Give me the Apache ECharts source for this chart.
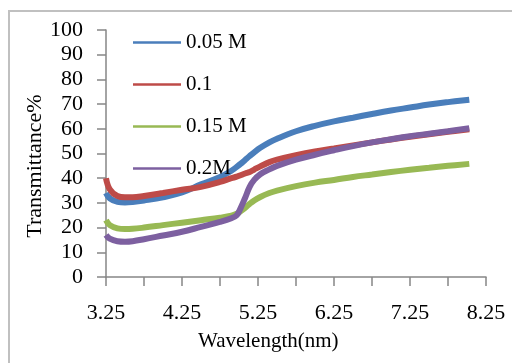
<!DOCTYPE html>
<html>
<head>
<meta charset="utf-8">
<script src="https://cdn.jsdelivr.net/npm/echarts@6/dist/echarts.min.js"></script>
<style>html,body{margin:0;padding:0;background:#fff;}#c{width:512px;height:363px;}</style>
</head>
<body>
<div id="c"></div>
<script>
// Wavelength (nm)
const wavelengths = [3.25,3.3,3.4,3.5,3.6,3.75,4.0,4.25,4.5,4.75,4.9,4.97,5.02,5.08,5.14,5.2,5.28,5.4,5.5,5.75,6.0,6.25,6.5,6.75,7.0,7.25,7.5,7.75,8.03];
const seriesNames = ['0.05 M','0.1','0.15 M','0.2M'];
const t005 = [34,31.8,30.4,30.2,30.4,31,32.3,34.2,37.5,40.5,43,44.6,45.8,47.4,49,50.5,52.3,54.5,56,59,61.2,63,64.5,66,67.4,68.6,69.8,70.8,71.8];
const t01  = [40,35.5,32.8,32.3,32.3,32.8,34,35.3,36.5,38.5,40,40.6,41.2,41.9,42.5,43.5,44.8,46.5,47.5,49.3,50.8,52,53.3,54.5,55.7,56.8,57.8,58.8,59.8];
const t015 = [23,21,19.7,19.4,19.5,20,21,22,23,24,24.8,25.6,26.6,28,29.6,31,32.4,34,35,36.8,38.2,39.3,40.5,41.5,42.5,43.4,44.2,45,45.8];
const t02  = [17,15.5,14.5,14.3,14.5,15.3,16.8,18.3,20.3,22.3,23.8,25,27.8,32,36.5,39.3,41.6,43.6,45,47.5,49.5,51.3,53,54.5,55.8,57,58,59,60.2];
const xTickLabels = ['3.25','4.25','5.25','6.25','7.25','8.25'];
const yMin = 0, yMax = 100, yStep = 10;

const colors = ['#4A7EBB','#BE4B48','#98B954','#7D60A0'];
const xOrigin = 3.25;
const allSeries = [t005,t01,t015,t02];
const font = 'Liberation Serif';

const chart = echarts.init(document.getElementById('c'), null, {renderer:'canvas'});
chart.setOption({
  animation:false,
  backgroundColor:'#fff',
  color: colors,
  grid:{left:106,right:26,top:30,bottom:86},
  legend:{
    orient:'vertical', left:133, top:32, padding:0, itemGap:21,
    icon:'rect', itemWidth:48, itemHeight:2.5,
    textStyle:{fontFamily:font,fontSize:21,color:'#000',padding:[0,0,0,0]},
    data: seriesNames
  },
  xAxis:{
    type:'value', min:0, max:5, interval:1,
    axisLine:{lineStyle:{color:'#868686',width:1.5}},
    axisTick:{show:true,length:9,inside:false,lineStyle:{color:'#868686',width:1.5}},
    minorTick:{show:true,splitNumber:2,length:9,lineStyle:{color:'#868686',width:1.5}},
    splitLine:{show:false},
    axisLabel:{margin:25,fontFamily:font,fontSize:22,color:'#000',
      formatter:(v)=>xTickLabels[Math.round(v)] || ''}
  },
  yAxis:{
    type:'value', min:yMin, max:yMax, interval:yStep,
    axisLine:{show:true,lineStyle:{color:'#868686',width:1.5}},
    axisTick:{show:true,length:9,lineStyle:{color:'#868686',width:1.5}},
    splitLine:{show:false},
    axisLabel:{margin:23,fontFamily:font,fontSize:22,color:'#000'}
  },
  graphic:[
    {type:'rect',silent:true,shape:{x:9,y:11,width:600,height:500},style:{fill:'none',stroke:'#c0c0c0',lineWidth:2}},
    {type:'text',style:{text:'Wavelength(nm)',fontFamily:font,fontSize:21,fill:'#000'},top:331,left:198},
    {type:'text',rotation:Math.PI/2,style:{text:'Transmittance%',fontFamily:font,fontSize:22,fill:'#000',align:'center',verticalAlign:'middle'},x:35,y:166}
  ],
  series: seriesNames.map((n,i)=>({
    name:n, type:'line', showSymbol:false, smooth:0.4,
    lineStyle:{width:6,color:colors[i]},
    itemStyle:{color:colors[i]},
    data: wavelengths.map((w,j)=>[w - xOrigin, allSeries[i][j]])
  }))
});
</script>
</body>
</html>
